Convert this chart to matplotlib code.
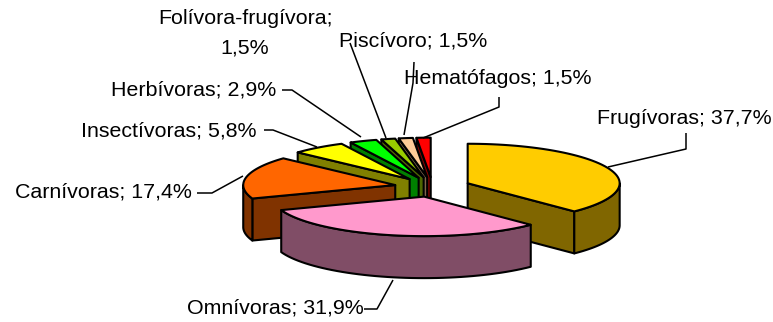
import numpy as np
import matplotlib
matplotlib.use("Agg")
import matplotlib.pyplot as plt

# ---- data ----
categories = ["Frugívoras", "Omnívoras", "Carnívoras", "Insectívoras",
              "Herbívoras", "Folívora-frugívora", "Piscívoro", "Hematófagos"]
values = [37.7, 31.9, 17.4, 5.8, 2.9, 1.5, 1.5, 1.5]
top_colors = ["#FFCC00", "#FF99CC", "#FF6600", "#FFFF00",
              "#00FF00", "#99CC00", "#FFCC99", "#FF0000"]
side_colors = ["#806600", "#804D66", "#803300", "#808000",
               "#008000", "#4D6600", "#80664D", "#800000"]

# ---- layout (image pixels) ----
CX, CY = 432.5, 187
RX, RY = 152, 39.5
DEPTH = 42
EXPLODE = 0.25
LW = 1.5
EDGE = "black"

plt.rcParams["font.family"] = ["Liberation Sans", "DejaVu Sans"]
fig = plt.figure(figsize=(7.73, 3.22), dpi=100)
ax = fig.add_axes([0, 0, 1, 1])
ax.set_xlim(0, 773)
ax.set_ylim(322, 0)
ax.axis("off")


def pt(theta, ox, oy):
    t = np.radians(theta)
    return ox + RX * np.sin(t), oy - RY * np.cos(t)


def poly(xs, ys, color):
    ax.fill(xs, ys, facecolor=color, edgecolor=EDGE, linewidth=LW, joinstyle="round")


def draw_slice(a0, a1, top, side):
    mid = (a0 + a1) / 2
    ox, oy = pt(mid, 0, 0)
    ox, oy = CX + EXPLODE * ox, CY + EXPLODE * oy
    # radial walls that face the viewer
    if a0 >= 180:
        x, y = pt(a0, ox, oy)
        poly([ox, x, x, ox], [oy, y, y + DEPTH, oy + DEPTH], side)
    if a1 <= 180:
        x, y = pt(a1, ox, oy)
        poly([ox, x, x, ox], [oy, y, y + DEPTH, oy + DEPTH], side)
    # outer wall
    lo, hi = max(a0, 90), min(a1, 270)
    if hi > lo:
        th = np.linspace(lo, hi, 50)
        x, y = pt(th, ox, oy)
        poly(np.r_[x, x[::-1]], np.r_[y, y[::-1] + DEPTH], side)
    # top face
    th = np.linspace(a0, a1, 60)
    x, y = pt(th, ox, oy)
    poly(np.r_[ox, x], np.r_[oy, y], top)


total = sum(values)
edges = np.r_[0, np.cumsum(values)] / total * 360
# paint from back to front
for i in [7, 6, 5, 4, 3, 2, 0, 1]:
    draw_slice(edges[i], edges[i + 1], top_colors[i], side_colors[i])

# ---- leader lines ----
leaders = [
    [(608, 167), (686, 149), (686, 133)],
    [(364, 309), (377, 309), (393, 280)],
    [(197, 193), (212, 193), (243, 176)],
    [(264, 130), (273, 130), (317, 147)],
    [(282, 90), (292, 90), (361, 137)],
    [(350, 43), (386, 138)],
    [(414, 62), (413, 83), (404, 135)],
    [(499, 97), (499, 107), (423, 138)],
]
for seg in leaders:
    xs, ys = zip(*seg)
    ax.plot(xs, ys, color="black", lw=1.1, solid_capstyle="butt")


def fmt(v):
    return f"{v:.1f}".replace(".", ",") + "%"


# ---- labels ----
FS = 15.4
label_pos = [(597, 118), (187, 308), (15, 192), (81, 131),
             (111, 90), (158, 18), (339, 41), (404, 78)]
for i, (x, y) in enumerate(label_pos):
    if categories[i].startswith("Folívora"):
        ax.text(x, y, categories[i] + ";", fontsize=FS, va="center", ha="left")
        ax.text(245, 48, fmt(values[i]), fontsize=FS, va="center", ha="center")
    else:
        ax.text(x, y, f"{categories[i]}; {fmt(values[i])}", fontsize=FS, va="center", ha="left")

fig.savefig("out.png", dpi=100, facecolor="white")
